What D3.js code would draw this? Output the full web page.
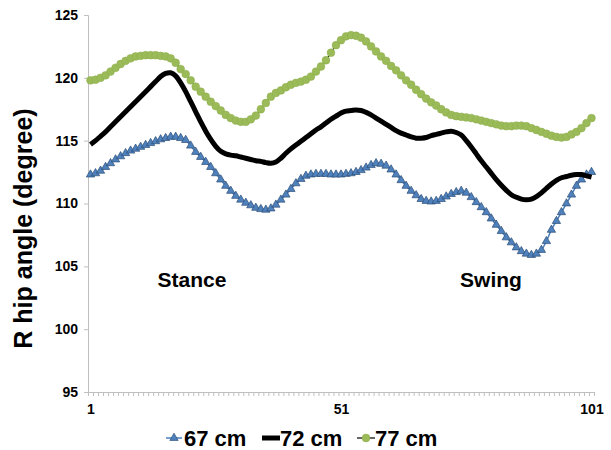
<!DOCTYPE html>
<html>
<head>
<meta charset="utf-8">
<script src="https://cdn.jsdelivr.net/npm/d3@7"></script>
<style>
  body { margin: 0; background: #fff; }
  text { font-family: "Liberation Sans", Arial, sans-serif; font-weight: bold; fill: #000; }
</style>
</head>
<body>
<script>
// R hip angle over the gait cycle, three leg lengths

var frames = d3.range(1, 102);
var xTickLabels = [1, 51, 101];
var yTicks = [95, 100, 105, 110, 115, 120, 125];
var seriesNames = ["67 cm", "72 cm", "77 cm"];
var phaseLabels = ["Stance", "Swing"];

// values, one per frame
var cm67 = [112.3,112.4,112.6,112.9,113.2,113.5,113.75,114.0,114.2,114.35,
  114.5,114.65,114.8,114.95,115.1,115.2,115.3,115.3,115.2,115.05,
  114.6,114.1,113.7,113.3,112.9,112.4,111.9,111.4,111.0,110.6,
  110.3,110.05,109.85,109.65,109.55,109.5,109.6,109.9,110.3,110.7,
  111.15,111.6,111.95,112.2,112.3,112.35,112.35,112.35,112.3,112.3,
  112.3,112.35,112.4,112.5,112.65,112.85,113.05,113.2,113.15,113.0,
  112.7,112.3,111.85,111.4,111.0,110.65,110.35,110.2,110.15,110.2,
  110.35,110.55,110.75,110.9,111.0,110.85,110.5,110.1,109.7,109.3,
  108.8,108.3,107.8,107.3,106.9,106.5,106.2,106.0,105.9,106.0,
  106.3,107.0,107.9,108.6,109.3,110.0,110.7,111.4,111.9,112.3,112.5];

var cm72 = [114.7,115.0,115.35,115.7,116.1,116.5,116.9,117.3,117.7,118.1,
  118.5,118.9,119.3,119.7,120.1,120.35,120.4,120.15,119.6,118.9,
  118.1,117.3,116.5,115.75,115.1,114.55,114.15,113.95,113.85,113.8,
  113.7,113.6,113.5,113.4,113.35,113.25,113.2,113.3,113.6,114.0,
  114.35,114.65,114.95,115.25,115.55,115.85,116.1,116.4,116.7,116.95,
  117.2,117.35,117.4,117.45,117.4,117.25,117.05,116.8,116.55,116.3,
  116.05,115.8,115.6,115.45,115.3,115.2,115.2,115.25,115.4,115.5,
  115.6,115.7,115.75,115.65,115.45,115.0,114.5,113.95,113.4,112.9,
  112.4,111.9,111.45,111.05,110.7,110.5,110.35,110.3,110.35,110.55,
  110.85,111.2,111.55,111.85,112.05,112.15,112.25,112.3,112.3,112.2,112.1];

var cm77 = [119.8,119.85,120.0,120.2,120.5,120.8,121.1,121.35,121.55,121.7,
  121.75,121.8,121.8,121.8,121.75,121.7,121.55,121.2,120.7,120.3,
  119.8,119.3,118.9,118.5,118.1,117.75,117.4,117.05,116.8,116.6,
  116.5,116.5,116.7,117.0,117.5,118.0,118.5,118.8,119.0,119.25,
  119.45,119.6,119.7,119.85,120.1,120.5,120.9,121.4,122.0,122.6,
  123.0,123.3,123.4,123.35,123.2,122.9,122.5,122.1,121.7,121.35,
  120.95,120.6,120.2,119.8,119.45,119.05,118.7,118.35,118.05,117.8,
  117.5,117.25,117.05,116.95,116.9,116.85,116.8,116.7,116.6,116.5,
  116.4,116.3,116.2,116.15,116.15,116.2,116.2,116.15,116.0,115.85,
  115.7,115.55,115.4,115.3,115.25,115.3,115.5,115.7,116.0,116.4,116.8];

var width = 611, height = 450;
var plot = {left: 88, right: 594, top: 15, bottom: 392};

var svg = d3.select("body").append("svg")
    .attr("width", width)
    .attr("height", height);

// frames sit in the middle of each category slot
var x = d3.scaleLinear().domain([0.5, 101.5]).range([plot.left, plot.right]);
var y = d3.scaleLinear().domain([95, 125]).range([plot.bottom, plot.top]);

// y axis
var yAxis = d3.axisLeft(y).tickValues(yTicks).tickSize(4).tickPadding(6);
var gy = svg.append("g")
    .attr("transform", "translate(" + plot.left + ",0)")
    .call(yAxis);
gy.select(".domain").attr("stroke", "#bfbfbf");
gy.selectAll(".tick line").attr("stroke", "#bfbfbf");
gy.selectAll(".tick text")
    .style("font-size", "14px")
    .style("font-family", "Liberation Sans, Arial, sans-serif")
    .style("font-weight", "bold")
    .attr("fill", "#000");

// x axis: a tick mark between every frame
var xAxisMarks = d3.axisBottom(x)
    .tickValues(d3.range(0.5, 102, 1))
    .tickSize(4)
    .tickFormat("");
var gx = svg.append("g")
    .attr("transform", "translate(0," + plot.bottom + ")")
    .call(xAxisMarks);
gx.select(".domain").attr("stroke", "#bfbfbf");
gx.selectAll(".tick line").attr("stroke", "#bfbfbf");

var xAxisLabels = d3.axisBottom(x).tickValues(xTickLabels).tickSize(0).tickPadding(12);
var gxl = svg.append("g")
    .attr("transform", "translate(0," + plot.bottom + ")")
    .call(xAxisLabels);
gxl.select(".domain").remove();
gxl.selectAll(".tick text")
    .style("font-size", "14px")
    .style("font-family", "Liberation Sans, Arial, sans-serif")
    .style("font-weight", "bold")
    .attr("fill", "#000");

// y axis title
svg.append("text")
    .attr("transform", "translate(32," + ((plot.top + plot.bottom) / 2 + 25) + ") rotate(-90)")
    .attr("text-anchor", "middle")
    .style("font-size", "25px")
    .text("R hip angle (degree)");

var line = d3.line()
    .x(function (d, i) { return x(frames[i]) })
    .y(function (d) { return y(d) })
    .curve(d3.curveCatmullRom.alpha(0.5));

// 67 cm: blue line with triangles
svg.append("path")
    .attr("d", line(cm67))
    .attr("fill", "none")
    .attr("stroke", "#4a7ebb")
    .attr("stroke-width", 1.5);
var tri = d3.symbol().type(d3.symbolTriangle).size(30);
svg.append("g").selectAll("path")
    .data(cm67)
    .enter()
  .append("path")
    .attr("d", tri)
    .attr("transform", function (d, i) { return "translate(" + x(frames[i]) + "," + y(d) + ")" })
    .attr("fill", "#4f81bd")
    .attr("stroke", "#2c4d75")
    .attr("stroke-width", 0.7);

// 72 cm: thick black line
svg.append("path")
    .attr("d", line(cm72))
    .attr("fill", "none")
    .attr("stroke", "#000")
    .attr("stroke-width", 5)
    .attr("stroke-linejoin", "round");

// 77 cm: thin black line with green dots
svg.append("path")
    .attr("d", line(cm77))
    .attr("fill", "none")
    .attr("stroke", "#000")
    .attr("stroke-width", 1.2);
svg.append("g").selectAll("circle")
    .data(cm77)
    .enter()
  .append("circle")
    .attr("cx", function (d, i) { return x(frames[i]) })
    .attr("cy", function (d) { return y(d) })
    .attr("r", 3.9)
    .attr("fill", "#9bbb59")
    .attr("stroke", "#8cac4c")
    .attr("stroke-width", 0.5);

// phase labels
svg.append("text")
    .attr("x", 192).attr("y", 287)
    .attr("text-anchor", "middle")
    .style("font-size", "21px")
    .text(phaseLabels[0]);
svg.append("text")
    .attr("x", 491).attr("y", 287)
    .attr("text-anchor", "middle")
    .style("font-size", "21px")
    .text(phaseLabels[1]);

// legend
var legendY = 438;
var legendX = [166, 262, 357];
var leg = svg.append("g");

seriesNames.forEach(function (name, k) {
  var x0 = legendX[k];
  var g = leg.append("g").attr("transform", "translate(" + x0 + "," + legendY + ")");
  if (k === 0) {
    g.append("line").attr("x1", 0).attr("x2", 16).attr("stroke", "#4a7ebb").attr("stroke-width", 1.5);
    g.append("path").attr("d", tri).attr("transform", "translate(8,0)")
      .attr("fill", "#4f81bd").attr("stroke", "#2c4d75").attr("stroke-width", 0.7);
  } else if (k === 1) {
    g.append("line").attr("x1", 0).attr("x2", 18).attr("stroke", "#000").attr("stroke-width", 5);
  } else {
    g.append("line").attr("x1", 0).attr("x2", 18).attr("stroke", "#000").attr("stroke-width", 1.2);
    g.append("circle").attr("cx", 9).attr("cy", 0).attr("r", 3.9)
      .attr("fill", "#9bbb59").attr("stroke", "#8cac4c").attr("stroke-width", 0.5);
  }
  g.append("text")
    .attr("x", 18).attr("y", 8)
    .style("font-size", "22px")
    .text(name);
});
</script>
</body>
</html>
